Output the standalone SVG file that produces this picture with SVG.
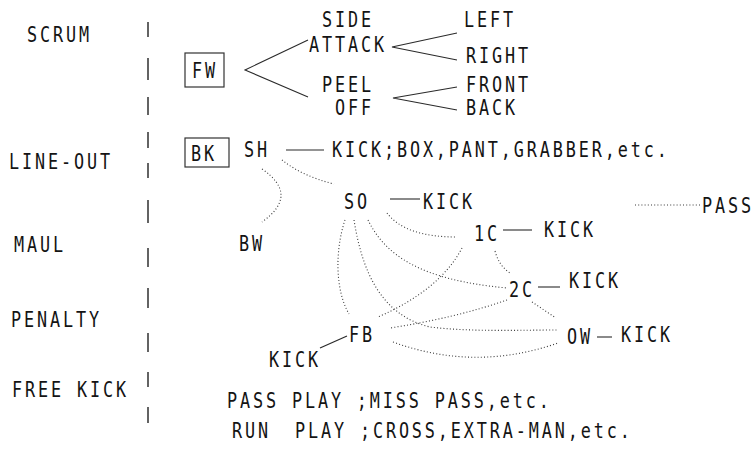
<svg xmlns="http://www.w3.org/2000/svg" width="756" height="459" viewBox="0 0 756 459">
<style>
  text { font-family: "DejaVu Sans Mono", "Liberation Mono", monospace; font-size: 21px; letter-spacing: 3.6px; fill: #141414; }
  .box { fill: none; stroke: #333; stroke-width: 1.2; }
  .solid { fill: none; stroke: #2a2a2a; stroke-width: 1.1; }
  .dot { fill: none; stroke: #3a3a3a; stroke-width: 1.1; stroke-dasharray: 1 2.2; }
  .sep { fill: none; stroke: #222; stroke-width: 1.4; }
</style>
<rect width="756" height="459" fill="#fff"/>

<g id="separator">
  <path class="sep" d="M148,22V37 M148,58V80 M148,97V115 M148,132V148 M148,163V178 M148,200V223 M148,248V267 M148,288V308 M148,333V352 M148,372V387 M148,407V423"/>
</g>

<g id="scrum"><text transform="matrix(0.8 0 0 1 5.4 0)" x="27" y="42">SCRUM</text></g>
<g id="line-out"><text transform="matrix(0.8 0 0 1 1.8 0)" x="9" y="169">LINE-OUT</text></g>
<g id="maul"><text transform="matrix(0.8 0 0 1 2.8 0)" x="14" y="252">MAUL</text></g>
<g id="penalty"><text transform="matrix(0.8 0 0 1 2.2 0)" x="11" y="327">PENALTY</text></g>
<g id="free-kick"><text transform="matrix(0.8 0 0 1 2.4 0)" x="12" y="397">FREE KICK</text></g>

<g id="fw"><rect class="box" x="185" y="53" width="39" height="34"/><text transform="matrix(0.8 0 0 1 38.4 0)" x="192" y="78">FW</text></g>
<g id="bk"><rect class="box" x="185" y="138" width="44" height="29"/><text transform="matrix(0.8 0 0 1 38.2 0)" x="191" y="161">BK</text></g>

<g id="side-attack"><text transform="matrix(0.8 0 0 1 64.4 0)" x="322" y="27">SIDE</text><text transform="matrix(0.8 0 0 1 61.8 0)" x="309" y="52">ATTACK</text></g>
<g id="peel-off"><text transform="matrix(0.8 0 0 1 64.4 0)" x="322" y="92">PEEL</text><text transform="matrix(0.8 0 0 1 67 0)" x="335" y="115">OFF</text></g>
<g id="left"><text transform="matrix(0.8 0 0 1 92.8 0)" x="464" y="27">LEFT</text></g>
<g id="right"><text transform="matrix(0.8 0 0 1 93.2 0)" x="466" y="63">RIGHT</text></g>
<g id="front"><text transform="matrix(0.8 0 0 1 93.2 0)" x="466" y="92">FRONT</text></g>
<g id="back"><text transform="matrix(0.8 0 0 1 93.2 0)" x="466" y="115">BACK</text></g>

<g id="sh"><text transform="matrix(0.8 0 0 1 48.8 0)" x="244" y="157">SH</text></g>
<g id="kick-sh"><text transform="matrix(0.8 0 0 1 66.4 0)" x="332" y="157">KICK;BOX,PANT,GRABBER,etc.</text></g>
<g id="so"><text transform="matrix(0.8 0 0 1 68.8 0)" x="344" y="209">SO</text></g>
<g id="kick-so"><text transform="matrix(0.8 0 0 1 84.6 0)" x="423" y="209">KICK</text></g>
<g id="c1"><text transform="matrix(0.8 0 0 1 94.8 0)" x="474" y="241">1C</text></g>
<g id="kick-1c"><text transform="matrix(0.8 0 0 1 108.8 0)" x="544" y="237">KICK</text></g>
<g id="pass"><text transform="matrix(0.8 0 0 1 140.4 0)" x="702" y="213">PASS</text></g>
<g id="bw"><text transform="matrix(0.8 0 0 1 47.8 0)" x="239" y="251">BW</text></g>
<g id="c2"><text transform="matrix(0.8 0 0 1 101.8 0)" x="509" y="297">2C</text></g>
<g id="kick-2c"><text transform="matrix(0.8 0 0 1 113.8 0)" x="569" y="288">KICK</text></g>
<g id="ow"><text transform="matrix(0.8 0 0 1 113.4 0)" x="567" y="344">OW</text></g>
<g id="kick-ow"><text transform="matrix(0.8 0 0 1 124.2 0)" x="621" y="342">KICK</text></g>
<g id="fb"><text transform="matrix(0.8 0 0 1 69.8 0)" x="349" y="342">FB</text></g>
<g id="kick-fb"><text transform="matrix(0.8 0 0 1 53.8 0)" x="269" y="367">KICK</text></g>

<g id="pass-play"><text transform="matrix(0.8 0 0 1 45.4 0)" x="227" y="408">PASS PLAY ;MISS PASS,etc.</text></g>
<g id="run-play"><text transform="matrix(0.8 0 0 1 46.4 0)" y="438"><tspan x="232">RUN </tspan><tspan x="310.75">PLAY ;CROSS,EXTRA-MAN,etc.</tspan></text></g>

<g id="connectors">
  <path class="solid" d="M308,40 L245,70 L308,97"/>
  <path class="solid" d="M457,33 L392,47 L457,60"/>
  <path class="solid" d="M457,87 L393,98 L457,110"/>
  <path class="solid" d="M286,150 H324"/>
  <path class="solid" d="M390,199 H420"/>
  <path class="solid" d="M503,230 H532"/>
  <path class="solid" d="M538,287 H560"/>
  <path class="solid" d="M597,337 H612"/>
  <path class="solid" d="M320,348 L347,336"/>

  <path class="dot" d="M282,160 Q302,176 334,184"/>
  <path class="dot" d="M262,169 Q300,195 262,222"/>
  <path class="dot" d="M387,213 Q405,237 457,237"/>
  <path class="dot" d="M345,220 C335,250 335,290 349,314"/>
  <path class="dot" d="M354,220 C362,270 380,315 430,327 C470,332 520,330 557,330"/>
  <path class="dot" d="M368,220 C385,255 420,280 507,288"/>
  <path class="dot" d="M495,251 Q499,266 510,273"/>
  <path class="dot" d="M462,248 Q440,290 378,317"/>
  <path class="dot" d="M507,300 Q455,318 390,328"/>
  <path class="dot" d="M532,302 L556,318"/>
  <path class="dot" d="M393,342 Q475,372 558,343"/>
  <path class="dot" d="M635,205 H701"/>
</g>
</svg>
